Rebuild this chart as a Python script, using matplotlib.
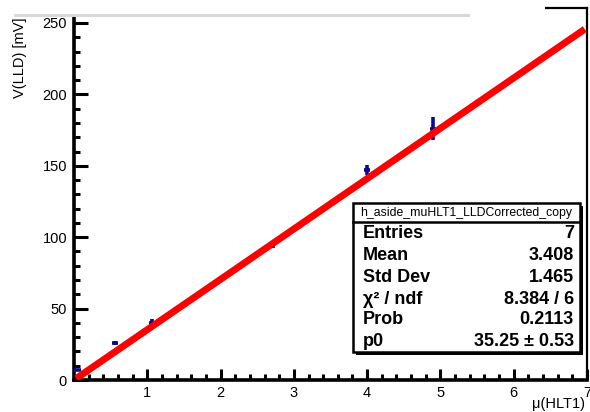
import matplotlib
matplotlib.use("Agg")
import matplotlib.pyplot as plt
from matplotlib.patches import Rectangle
from matplotlib.lines import Line2D
from matplotlib.ticker import MultipleLocator
import numpy as np

plt.rcParams['font.family'] = ['Liberation Sans', 'DejaVu Sans']

# Histogram contents: luminosity (mu) vs corrected LLD voltage
mu = [0.05, 0.56, 1.07, 1.49, 2.70, 4.00, 4.90]
v_lld = [7.0, 26.0, 40.0, 52.5, 94.0, 147.0, 176.0]
v_err = [1.0, 1.5, 3.0, 1.0, 1.5, 3.5, 8.0]

# Fit result: V = p0 * mu
p0 = 35.25
fit_range = [0.03, 6.97]

hist_name = "h_aside_muHLT1_LLDCorrected_copy"
stat_labels = ["Entries", "Mean", "Std Dev", "\u03c7\u00b2 / ndf", "Prob", "p0"]
stat_values = ["7", "3.408", "1.465", "8.384 / 6", "0.2113", "35.25 \u00b1 0.53"]

W, H = 590, 412
fig = plt.figure(figsize=(W / 100, H / 100), dpi=100)
ax = fig.add_axes([74 / W, 1 - 380 / H, (587 - 74) / W, (380 - 8) / H])
ax.set_xlim(0, 7)
ax.set_ylim(0, 260.5)

# data points with error bars
ax.errorbar(mu, v_lld, yerr=v_err, xerr=0.045, fmt='none', ecolor='#0a0a8c',
            elinewidth=2.6, capsize=0, zorder=3)

# fitted line
xf = np.array(fit_range)
ax.plot(xf, p0 * xf, color='#ff0000', lw=5.0, solid_capstyle='butt', zorder=4)

# axes styling
for s in ['left', 'bottom']:
    ax.spines[s].set_linewidth(2.6)
for s in ['right', 'top']:
    ax.spines[s].set_linewidth(1.6)
ax.xaxis.set_major_locator(MultipleLocator(1))
ax.xaxis.set_minor_locator(MultipleLocator(0.2))
ax.yaxis.set_major_locator(MultipleLocator(50))
ax.yaxis.set_minor_locator(MultipleLocator(10))
ax.tick_params(axis='x', which='major', direction='in', length=8, width=2.2,
               labelsize=10.5, pad=4, top=False)
ax.tick_params(axis='x', which='minor', direction='in', length=4.3, width=2.2, top=False)
ax.tick_params(axis='y', which='major', direction='in', length=10, width=2.2,
               labelsize=10.5, pad=5, right=False)
ax.tick_params(axis='y', which='minor', direction='in', length=4.5, width=2.2, right=False)
ax.set_xticks([1, 2, 3, 4, 5, 6, 7])
ax.set_yticks([0, 50, 100, 150, 200, 250])

# axis titles, right/top aligned at the axis ends
fig.text(585 / W, 1 - 404 / H, "\u03bc(HLT1)", ha='right', va='center', fontsize=10.5)
fig.text(20 / W, 1 - 18 / H, "V(LLD) [mV]", ha='center', va='top', rotation=90,
         fontsize=10.5)

# statistics box with drop shadow
bx0, bx1 = 353, 580
ty0, ty1, sy1 = 203, 222, 352
fig.add_artist(Rectangle(((bx0 + 3) / W, 1 - (sy1 + 3) / H), (bx1 - bx0) / W,
                         (sy1 - ty0) / H, transform=fig.transFigure,
                         facecolor='black', edgecolor='none', zorder=5))
fig.add_artist(Rectangle((bx0 / W, 1 - sy1 / H), (bx1 - bx0) / W, (sy1 - ty0) / H,
                         transform=fig.transFigure, facecolor='white',
                         edgecolor='black', lw=1.8, zorder=6))
fig.add_artist(Line2D([bx0 / W, bx1 / W], [1 - ty1 / H, 1 - ty1 / H],
                      transform=fig.transFigure, color='black', lw=1.8, zorder=7))
fig.text((bx0 + bx1) / 2 / W, 1 - (ty0 + ty1) / 2 / H, hist_name, ha='center',
         va='center', fontsize=8.8, zorder=8)
row_y = [234, 256, 278, 299, 320, 341]
for lab, val, yy in zip(stat_labels, stat_values, row_y):
    fig.text(363 / W, 1 - yy / H, lab, ha='left', va='center', fontsize=13,
             fontweight='bold', zorder=8)
    fig.text(574 / W, 1 - yy / H, val, ha='right', va='center', fontsize=13,
             fontweight='bold', zorder=8)

# white band over the top edge with a light grey rule
fig.add_artist(Rectangle((0, 1 - 16 / H), 545 / W, 16 / H, transform=fig.transFigure,
                         facecolor='white', edgecolor='none', zorder=9))
fig.add_artist(Line2D([15 / W, 468 / W], [1 - 14.5 / H, 1 - 14.5 / H],
                      transform=fig.transFigure, color='#d9d9d9', lw=2.2, zorder=10))

fig.savefig("out.png", dpi=100)
